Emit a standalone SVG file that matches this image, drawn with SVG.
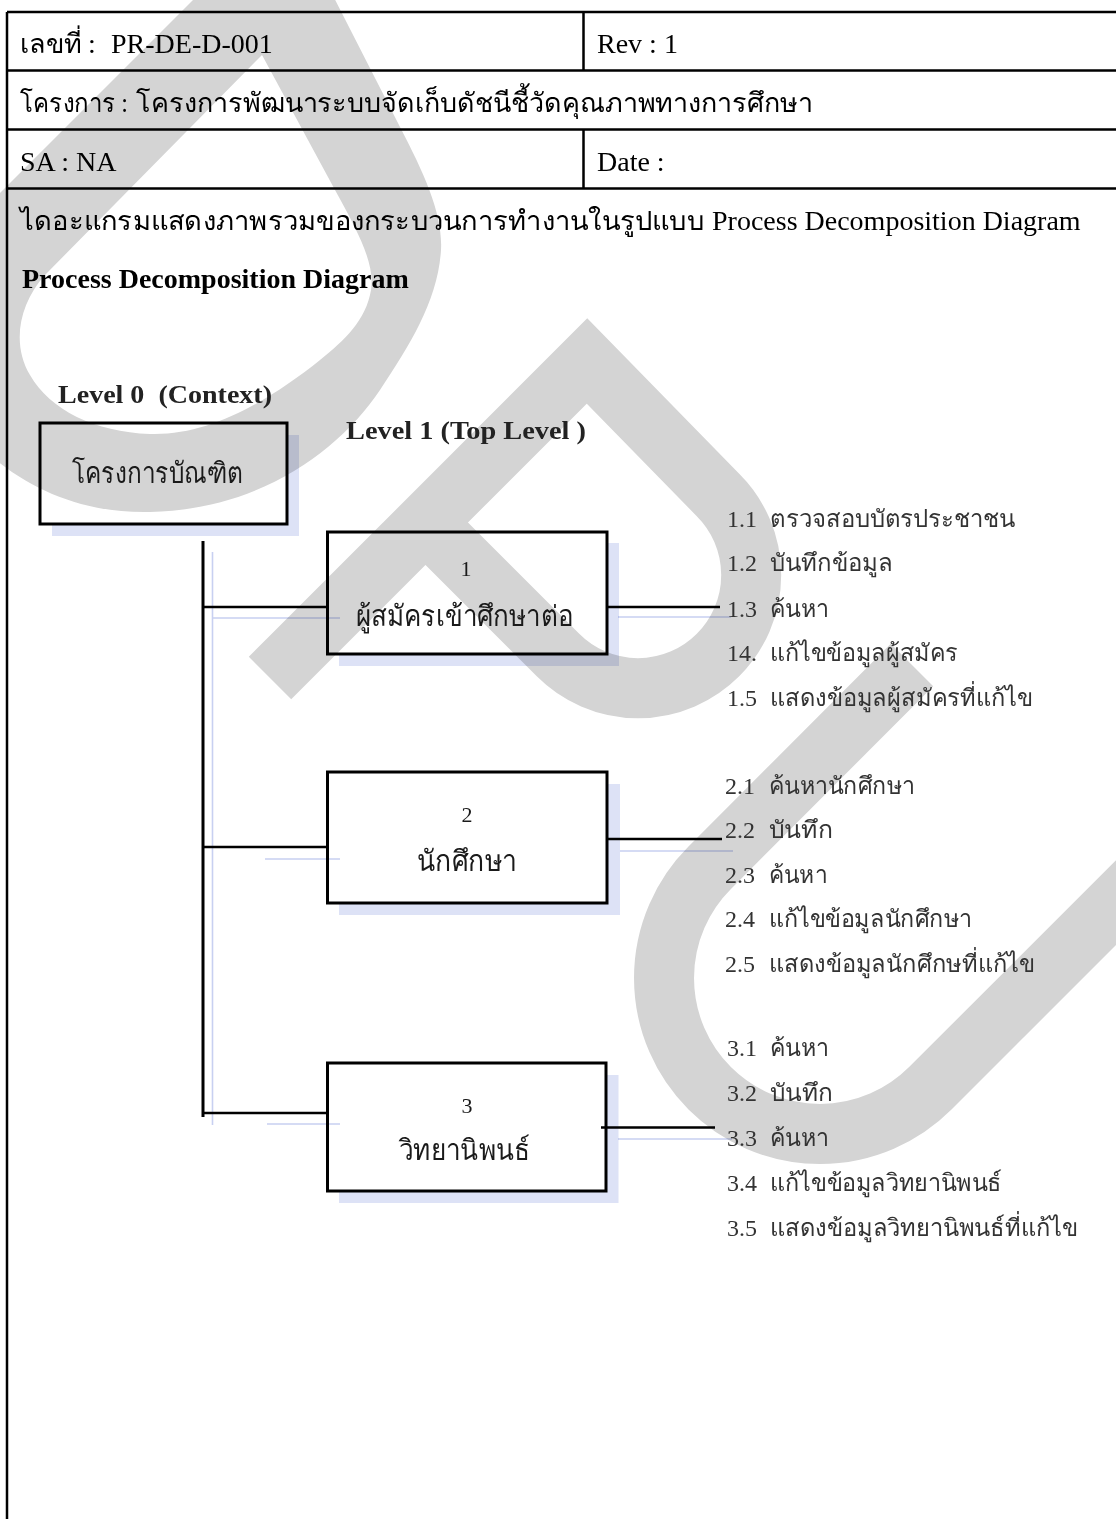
<svg xmlns="http://www.w3.org/2000/svg" width="1116" height="1519" viewBox="0 0 1116 1519">
  <style>
    .serif { font-family: "Liberation Serif", serif; }
    .hd { font-size: 28px; fill: #000; }
    .hdth { font-size: 27px; fill: #000; }
    .bold { font-weight: bold; }
    .lvl { font-size: 26px; font-weight: bold; fill: #222; }
    .num { font-size: 22px; fill: #1a1a1a; }
    .name { font-size: 29px; fill: #1a1a1a; }
    .item { font-size: 24px; fill: #333; }
    .grid { stroke: #000; stroke-width: 2.5; fill: none; }
    .box { fill: none; stroke: #000; stroke-width: 3; }
    .shadow { fill: #dde2f6; mix-blend-mode: multiply; }
    .wire { stroke: #000; stroke-width: 2.5; fill: none; }
    .trunk { stroke: #000; stroke-width: 3; fill: none; }
    .wire-sh { stroke: #c8d0f1; stroke-width: 1.6; fill: none; mix-blend-mode: multiply; }
    .wm { fill: none; stroke: #d4d4d4; stroke-width: 60; stroke-linejoin: miter; stroke-linecap: butt; }
  </style>

  <rect x="0" y="0" width="1116" height="1519" fill="#fff"/>

  <!-- background watermark strokes -->
  <g id="watermark">
    <path fill="#d4d4d4" fill-rule="evenodd" d="M 213,-20 L 325,-20 L 400,127 C 425,175 443,215 441,250 C 438,300 410,345 380,390 C 340,450 260,510 150,512 C 60,514 -10,470 -60,400 L -80,273 Z M 262,55 L 335,190 C 360,235 375,265 371,290 C 366,320 345,340 320,360 C 270,400 210,436 150,434 C 95,432 50,410 30,375 C 12,345 18,305 45,275 Z"/>
    <path class="wm" d="M 270,678 L 587,361 L 718,495 A 113 113 0 0 1 718,655 A 113 113 0 0 1 558,655 L 425,522"/>
    <path class="wm" d="M 912,665 L 709.7,867.7 A 156 156 0 0 0 709.7,1088.3 A 156 156 0 0 0 930.3,1088.3 L 1250,768.6"/>
  </g>

  <!-- document header table -->
  <g id="header">
    <path class="grid" d="M 7,12 H 1116 M 7,70.5 H 1116 M 7,129.5 H 1116 M 7,188.5 H 1116 M 7,12 V 1519 M 583.5,12 V 70.5 M 583.5,129.5 V 188.5"/>
    <text class="serif hd" x="20" y="53"><tspan class="hdth" textLength="62" lengthAdjust="spacingAndGlyphs">เลขที่</tspan> <tspan x="88">:</tspan> <tspan x="111">PR-DE-D-001</tspan></text>
    <text class="serif hd" x="597" y="53">Rev : 1</text>
    <text class="serif hdth" x="20" y="112"><tspan textLength="108" lengthAdjust="spacingAndGlyphs">โครงการ :</tspan> <tspan x="136" textLength="677" lengthAdjust="spacingAndGlyphs">โครงการพัฒนาระบบจัดเก็บดัชนีชี้วัดคุณภาพทางการศึกษา</tspan></text>
    <text class="serif hd" x="20" y="171">SA : NA</text>
    <text class="serif hd" x="597" y="171">Date :</text>
    <text class="serif hdth" x="20" y="230"><tspan textLength="684" lengthAdjust="spacingAndGlyphs">ไดอะแกรมแสดงภาพรวมของกระบวนการทำงานในรูปแบบ</tspan> <tspan class="hd" x="712">Process Decomposition Diagram</tspan></text>
    <text class="serif hd bold" x="22" y="288">Process Decomposition Diagram</text>
  </g>

  <!-- level captions -->
  <g id="captions">
    <text class="serif lvl" x="58" y="403" xml:space="preserve" textLength="214" lengthAdjust="spacingAndGlyphs">Level 0  (Context)</text>
    <text class="serif lvl" x="346" y="439" textLength="240" lengthAdjust="spacingAndGlyphs">Level 1 (Top Level )</text>
  </g>

  <!-- drop shadows of boxes and wires -->
  <g id="shadows">
    <path class="shadow" d="M 287,435 H 299 V 536 H 52 V 524 H 287 Z"/>
    <path class="shadow" d="M 607,543 H 619 V 666 H 339 V 654 H 607 Z"/>
    <path class="shadow" d="M 607,784 H 620 V 915 H 339 V 903 H 607 Z"/>
    <path class="shadow" d="M 606,1075 H 618.5 V 1203 H 339 V 1191 H 606 Z"/>
  </g>

  <!-- connectors -->
  <g id="connectors">
    <path class="wire-sh" d="M 212.5,552 V 1125 M 212.5,618 H 340 M 265,859 H 340 M 267,1124 H 340 M 618,617 H 731 M 620,851 H 733 M 618,1139 H 732"/>
    <path class="trunk" d="M 203,541 V 1117"/>
    <path class="wire" d="M 203,607 H 328 M 203,847 H 328 M 203,1113 H 328"/>
    <path class="wire" d="M 607,607 H 720 M 607,839 H 722 M 601,1127.5 H 715"/>
  </g>

  <!-- level 0 node -->
  <g id="node-context">
    <rect class="box" x="40" y="423" width="247" height="101"/>
    <text class="serif name" x="72" y="483" textLength="171" lengthAdjust="spacingAndGlyphs">โครงการบัณฑิต</text>
  </g>

  <!-- level 1 nodes -->
  <g id="node-1">
    <rect class="box" x="327.5" y="532" width="279.5" height="122"/>
    <text class="serif num" x="466" y="576" text-anchor="middle">1</text>
    <text class="serif name" x="356" y="626" textLength="217" lengthAdjust="spacingAndGlyphs">ผู้สมัครเข้าศึกษาต่อ</text>
  </g>
  <g id="node-2">
    <rect class="box" x="327.5" y="772" width="279.5" height="131"/>
    <text class="serif num" x="467" y="822" text-anchor="middle">2</text>
    <text class="serif name" x="417" y="871" textLength="100" lengthAdjust="spacingAndGlyphs">นักศึกษา</text>
  </g>
  <g id="node-3">
    <rect class="box" x="327.5" y="1063" width="278.5" height="128"/>
    <text class="serif num" x="467" y="1113" text-anchor="middle">3</text>
    <text class="serif name" x="399" y="1160" textLength="131" lengthAdjust="spacingAndGlyphs">วิทยานิพนธ์</text>
  </g>

  <!-- level 2 sub-process lists -->
  <g id="subs-1" class="serif item">
    <text x="727" y="527">1.1 <tspan x="770" textLength="245" lengthAdjust="spacingAndGlyphs">ตรวจสอบบัตรประชาชน</tspan></text>
    <text x="727" y="571">1.2 <tspan x="770" textLength="123" lengthAdjust="spacingAndGlyphs">บันทึกข้อมูล</tspan></text>
    <text x="727" y="617">1.3 <tspan x="770" textLength="59" lengthAdjust="spacingAndGlyphs">ค้นหา</tspan></text>
    <text x="727" y="661">14. <tspan x="770" textLength="188" lengthAdjust="spacingAndGlyphs">แก้ไขข้อมูลผู้สมัคร</tspan></text>
    <text x="727" y="706">1.5 <tspan x="770" textLength="263" lengthAdjust="spacingAndGlyphs">แสดงข้อมูลผู้สมัครที่แก้ไข</tspan></text>
  </g>
  <g id="subs-2" class="serif item">
    <text x="725" y="794">2.1 <tspan x="769" textLength="146" lengthAdjust="spacingAndGlyphs">ค้นหานักศึกษา</tspan></text>
    <text x="725" y="838">2.2 <tspan x="769" textLength="64" lengthAdjust="spacingAndGlyphs">บันทึก</tspan></text>
    <text x="725" y="883">2.3 <tspan x="769" textLength="58" lengthAdjust="spacingAndGlyphs">ค้นหา</tspan></text>
    <text x="725" y="927">2.4 <tspan x="769" textLength="203" lengthAdjust="spacingAndGlyphs">แก้ไขข้อมูลนักศึกษา</tspan></text>
    <text x="725" y="972">2.5 <tspan x="769" textLength="266" lengthAdjust="spacingAndGlyphs">แสดงข้อมูลนักศึกษที่แก้ไข</tspan></text>
  </g>
  <g id="subs-3" class="serif item">
    <text x="727" y="1056">3.1 <tspan x="770" textLength="59" lengthAdjust="spacingAndGlyphs">ค้นหา</tspan></text>
    <text x="727" y="1101">3.2 <tspan x="770" textLength="63" lengthAdjust="spacingAndGlyphs">บันทึก</tspan></text>
    <text x="727" y="1146">3.3 <tspan x="770" textLength="59" lengthAdjust="spacingAndGlyphs">ค้นหา</tspan></text>
    <text x="727" y="1191">3.4 <tspan x="770" textLength="232" lengthAdjust="spacingAndGlyphs">แก้ไขข้อมูลวิทยานิพนธ์</tspan></text>
    <text x="727" y="1236">3.5 <tspan x="770" textLength="308" lengthAdjust="spacingAndGlyphs">แสดงข้อมูลวิทยานิพนธ์ที่แก้ไข</tspan></text>
  </g>
</svg>
